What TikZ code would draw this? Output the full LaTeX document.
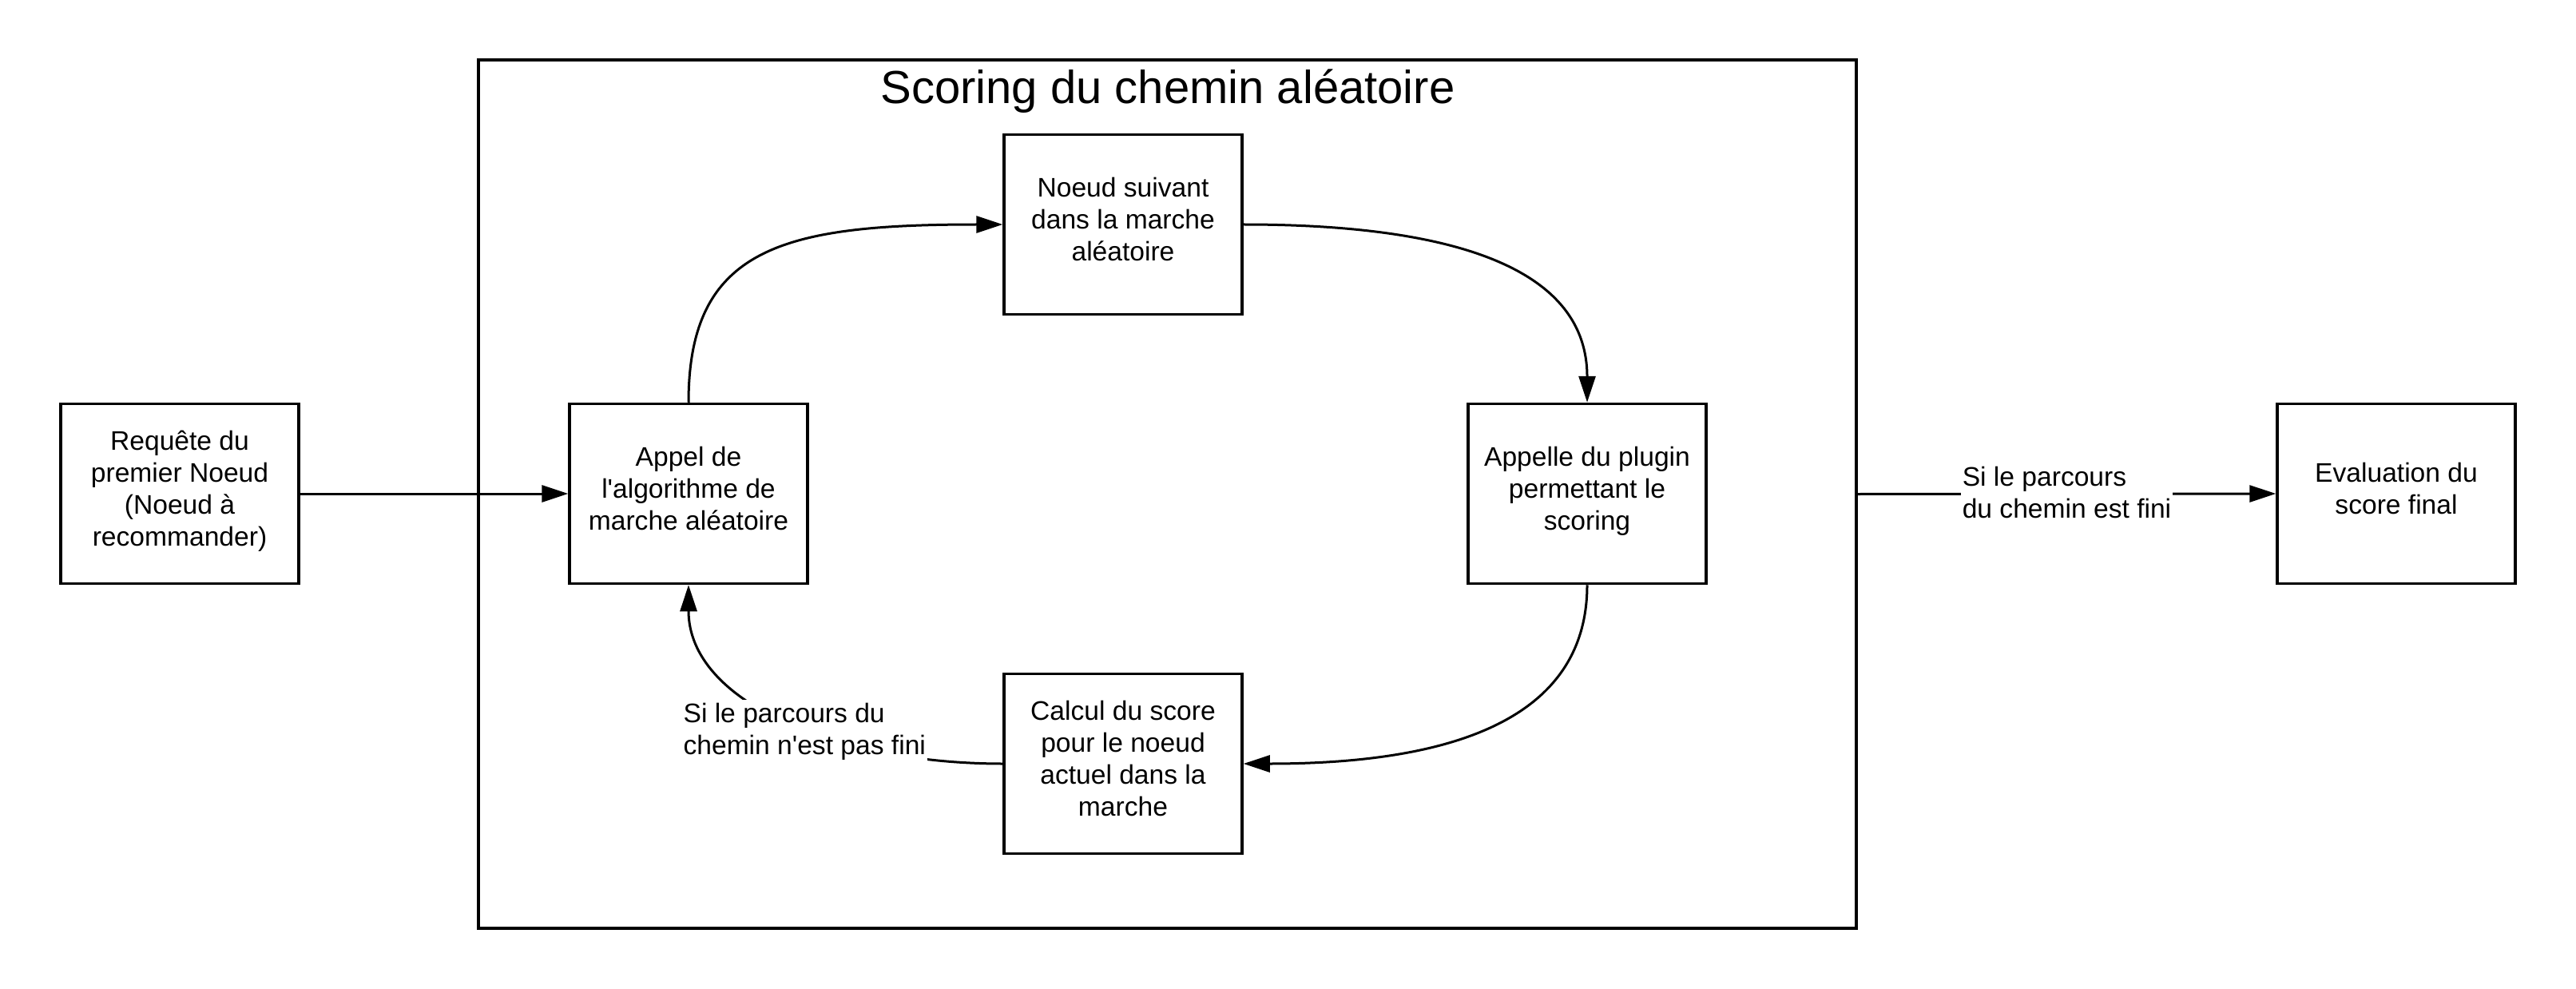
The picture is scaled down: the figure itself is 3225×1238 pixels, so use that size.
\documentclass[tikz,border=0pt]{standalone}
\usepackage{fontspec}
\setmainfont{Liberation Sans}[Ligatures=TeXOff]
\usetikzlibrary{arrows.meta}
\newcommand{\myTop}{\rule{0pt}{36pt}}
\newcommand{\myBot}{\rule[-13pt]{0pt}{0pt}}
\tikzset{
  stepbox/.style={draw=black, line width=3.5pt, minimum width=298pt, minimum height=225pt,
    inner sep=0pt, align=center, font=\fontsize{33.6}{40}\selectfont,
    execute at begin node=\myTop, execute at end node=\myBot},
  framebox/.style={draw=black, line width=3.5pt, minimum width=1725pt, minimum height=1087pt, inner sep=0pt},
  conn/.style={line width=3pt, -{Triangle[length=33pt,width=21pt]}},
  lbl/.style={fill=white, inner xsep=2pt, inner ysep=4pt, align=left, font=\fontsize{33.6}{40}\selectfont},
}
\begin{document}
\begin{tikzpicture}[x=1pt,y=-1pt]
\useasboundingbox (0,0) rectangle (3225,1238);
\node[framebox] (frame) at (1461.5,618.5) {};
\node[anchor=base, font=\fontsize{58}{68}\selectfont] (title) at (1462,130) {Scoring du chemin aléatoire};
\node[stepbox] (req) at (225,618) {Requête du\\premier Noeud\\(Noeud à\\recommander)};
\node[stepbox] (app) at (862,618) {Appel de\\l'algorithme de\\marche aléatoire};
\node[stepbox] (ns) at (1406,281) {Noeud suivant\\dans la marche\\aléatoire};
\node[stepbox] (plug) at (1987,618) {Appelle du plugin\\permettant le\\scoring};
\node[stepbox] (calc) at (1406,956) {Calcul du score\\pour le noeud\\actuel dans la\\marche};
\node[stepbox] (eval) at (3000,618) {Evaluation du\\score final};

\draw[conn] (req.east) -- (app.west);
\draw[conn] (app.north) .. controls +(0,-194) and +(-275,0) .. (ns.west);
\draw[conn] (ns.east) .. controls +(273,0) and +(0,-164) .. (plug.north);
\draw[conn] (plug.south) .. controls +(0,162) and +(273,0) .. (calc.east);
\draw[conn] (calc.west) .. controls +(-205,0) and +(0,148) .. (app.south)
  node[lbl, pos=0.4, xshift=-21pt, yshift=4pt] (lblloop) {Si le parcours du\\chemin n'est pas fini};
\draw[conn] (frame.east) -- (eval.west)
  node[lbl, midway, yshift=2pt] (lblend) {Si le parcours\\du chemin est fini};
\end{tikzpicture}
\end{document}
